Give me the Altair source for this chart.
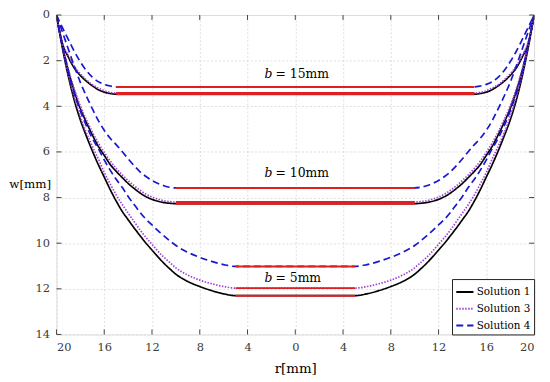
import altair as alt
import pandas as pd

# ---- data (s = 20 - |r|, distance from the clamped edge) ----
s15 = [0, 0.25, 0.5, 1, 1.5, 2, 2.5, 3, 3.5, 4, 4.5, 5]
w15_sol1 = [0, 0.7, 1.25, 1.85, 2.33, 2.65, 2.9, 3.1, 3.27, 3.38, 3.44, 3.47]
w15_sol3 = [0, 0.66, 1.2, 1.78, 2.25, 2.58, 2.84, 3.05, 3.2, 3.32, 3.39, 3.42]
w15_sol4 = [0, 0.28, 0.55, 1.08, 1.6, 2.05, 2.43, 2.72, 2.92, 3.04, 3.11, 3.15]

s10 = [0, 0.5, 1, 1.5, 2, 2.5, 3, 3.5, 4, 4.5, 5, 5.5, 6, 6.5, 7, 7.5, 8, 8.5, 9, 9.5, 10]
w10_sol1 = [0, 1.35, 2.45, 3.35, 4.1, 4.7, 5.25, 5.75, 6.15, 6.55, 6.85, 7.12, 7.38, 7.6, 7.8, 7.96, 8.08, 8.16, 8.22, 8.25, 8.27]
w10_sol3 = [0, 1.3, 2.38, 3.25, 3.98, 4.58, 5.12, 5.6, 6.02, 6.4, 6.72, 7.0, 7.25, 7.48, 7.68, 7.85, 7.98, 8.07, 8.14, 8.18, 8.2]
w10_sol4 = [0, 0.75, 1.5, 2.25, 2.95, 3.55, 4.1, 4.62, 5.05, 5.4, 5.68, 5.98, 6.3, 6.6, 6.87, 7.08, 7.25, 7.38, 7.48, 7.55, 7.58]

s5 = [0, 0.5, 1, 1.5, 2, 2.5, 3, 3.5, 4, 4.5, 5, 5.5, 6, 6.5, 7, 7.5, 8, 8.5, 9, 9.5, 10, 11, 12, 13, 14, 15]
w5_sol1 = [0, 1.45, 2.7, 3.75, 4.6, 5.3, 5.95, 6.55, 7.1, 7.65, 8.15, 8.6, 8.97, 9.33, 9.67, 10.0, 10.3, 10.6, 10.88, 11.13, 11.36, 11.68, 11.9, 12.08, 12.22, 12.3]
w5_sol3 = [0, 1.4, 2.6, 3.6, 4.45, 5.15, 5.75, 6.3, 6.9, 7.4, 7.88, 8.3, 8.68, 9.05, 9.42, 9.75, 10.05, 10.35, 10.62, 10.85, 11.08, 11.4, 11.62, 11.78, 11.9, 11.97]
w5_sol4 = [0, 1.35, 2.5, 3.45, 4.2, 4.85, 5.4, 5.85, 6.35, 6.8, 7.2, 7.55, 7.95, 8.3, 8.65, 8.95, 9.2, 9.45, 9.68, 9.9, 10.1, 10.4, 10.62, 10.8, 10.94, 11.02]

solutions = ["Solution 1", "Solution 3", "Solution 4"]
b_values = [15, 10, 5]
b_labels = ["= 15mm", "= 10mm", "= 5mm"]
b_label_w = [2.58, 6.94, 11.52]

x_ticks = [-20, -16, -12, -8, -4, 0, 4, 8, 12, 16, 20]
y_ticks = [0, 2, 4, 6, 8, 10, 12, 14]

series = {
    15: (s15, [w15_sol1, w15_sol3, w15_sol4]),
    10: (s10, [w10_sol1, w10_sol3, w10_sol4]),
    5: (s5, [w5_sol1, w5_sol3, w5_sol4]),
}

rows = []
flats = []
for b in b_values:
    s_list, w_lists = series[b]
    for sol, w_list in zip(solutions, w_lists):
        key = f"{sol}-{b}"
        idx = 0
        for s, w in zip(s_list, w_list):
            rows.append({"r": s - 20, "w": w, "sol": sol, "grp": key, "i": idx})
            idx += 1
        for s, w in zip(reversed(s_list), reversed(w_list)):
            rows.append({"r": 20 - s, "w": w, "sol": sol, "grp": key, "i": idx})
            idx += 1
        flats.append({"r": -b, "r2": b, "w": w_list[-1], "sol": sol})

df = pd.DataFrame(rows)
df_flat = pd.DataFrame(flats)
df_lab = pd.DataFrame({"r": [0] * 3, "w": b_label_w, "txt": b_labels, "b": ["b"] * 3})
df_xt = pd.DataFrame({"r": x_ticks})
df_yt = pd.DataFrame({"w": y_ticks})

W, H = 483, 323
FONT = "DejaVu Serif"

xscale = alt.Scale(domain=[-20, 20], nice=False, zero=False)
yscale = alt.Scale(domain=[0, 14], reverse=True, nice=False, zero=False)

xaxis = alt.Axis(values=x_ticks, labelExpr="abs(datum.value)", title="r[mm]",
                 grid=True, gridDash=[2, 2], gridColor="#dedede",
                 ticks=False, domain=False, labelPadding=7,
                 labelFont=FONT, labelFontSize=11.5, labelColor="#3a3a3a",
                 titleFont=FONT, titleFontSize=13.5, titleFontWeight="normal",
                 titleColor="black", titleY=34, titleBaseline="middle")
yaxis = alt.Axis(values=y_ticks, title="w[mm]", grid=True, gridDash=[2, 2],
                 gridColor="#dedede", ticks=False, domain=False, labelPadding=7,
                 labelFont=FONT, labelFontSize=11.5, labelColor="#3a3a3a",
                 titleFont=FONT, titleFontSize=12, titleFontWeight="normal",
                 titleColor="black", titleAngle=0, titleX=-27, titleY=170,
                 titleAlign="center", titleBaseline="middle")

X = alt.X("r:Q", scale=xscale, axis=xaxis)
Y = alt.Y("w:Q", scale=yscale, axis=yaxis)

lines = alt.Chart(df).mark_line(strokeWidth=1.7, clip=True, interpolate="monotone").encode(
    x=X,
    y=Y,
    color=alt.Color("sol:N", scale=alt.Scale(domain=solutions,
                                              range=["#000000", "#a040d8", "#1818d0"]),
                    legend=alt.Legend(orient="bottom-right", offset=0, title=None,
                                      fillColor="white", strokeColor="#222222",
                                      padding=3, symbolType="stroke", symbolSize=300,
                                      symbolStrokeWidth=2, labelFont=FONT,
                                      labelFontSize=10.5, labelColor="black",
                                      rowPadding=1, labelOffset=2)),
    strokeDash=alt.StrokeDash("sol:N", scale=alt.Scale(domain=solutions,
                                                        range=[[1, 0], [1.5, 1.5], [7, 4]]),
                              legend=alt.Legend(orient="bottom-right", offset=0, title=None)),
    detail="grp:N",
    order="i:Q",
)

reds = alt.Chart(df_flat).mark_rule(color="#e02020", strokeWidth=2).encode(
    x=X, x2="r2:Q", y=Y,
)

lab_b = alt.Chart(df_lab).mark_text(font=FONT, fontSize=12.5, fontStyle="italic",
                                    align="left", baseline="middle", dx=-31,
                                    color="black").encode(x=X, y=Y, text="b:N")
lab_t = alt.Chart(df_lab).mark_text(font=FONT, fontSize=12.5, align="left",
                                    baseline="middle", dx=-20,
                                    color="black").encode(x=X, y=Y, text="txt:N")

tk = dict(color="#444444", strokeWidth=1)
t_bottom = alt.Chart(df_xt).mark_rule(**tk).encode(x=X, y=alt.value(H), y2=alt.value(H - 5))
t_top = alt.Chart(df_xt).mark_rule(**tk).encode(x=X, y=alt.value(0), y2=alt.value(5))
t_left = alt.Chart(df_yt).mark_rule(**tk).encode(y=Y, x=alt.value(0), x2=alt.value(5))
t_right = alt.Chart(df_yt).mark_rule(**tk).encode(y=Y, x=alt.value(W - 5), x2=alt.value(W))

chart = alt.layer(lines, reds, lab_b, lab_t, t_bottom, t_top, t_left, t_right).properties(
    width=W, height=H,
    autosize=alt.AutoSizeParams(type="none"),
    padding={"left": 49, "top": 5, "right": 8, "bottom": 46},
).configure_view(stroke="#555555", strokeWidth=1).configure(background="white", font=FONT)

chart.save("out.html", embed_options={"renderer": "svg", "actions": False})
